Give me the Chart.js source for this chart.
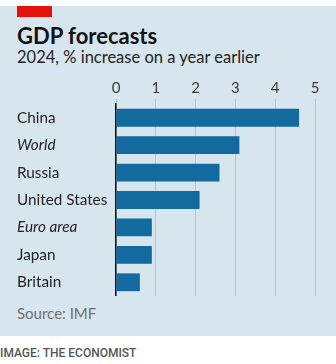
<!DOCTYPE html>
<html>
<head>
<meta charset="utf-8">
<script src="https://cdn.jsdelivr.net/npm/chart.js@4"></script>
<style>
  body { margin: 0; width: 336px; height: 364px; background: #fff; font-family: Lato, "Noto Sans", sans-serif; position: relative; overflow: hidden; }
  #panel { position: absolute; left: 0; top: 6px; width: 336px; height: 330px; background: #d7e5ee; }
  #redbar { position: absolute; left: 17px; top: 6px; width: 35px; height: 11px; background: #e3120b; }
  #title { position: absolute; left: 17px; top: 22px; font-size: 22px; font-weight: bold; color: #121212; }
  #subtitle { position: absolute; left: 17px; top: 47px; font-size: 16.5px; color: #222; }
  #source { position: absolute; left: 17px; top: 304px; font-size: 15px; color: #707070; }
  #credit { position: absolute; left: 0; top: 346px; font-size: 12px; font-weight: 500; color: #555; font-family: Roboto, sans-serif; }
  #wrap { position: absolute; left: 0; top: 77px; width: 336px; height: 219px; }
</style>
</head>
<body>
<div id="panel"></div>
<div id="redbar"></div>
<div id="title">GDP forecasts</div>
<div id="subtitle">2024, % increase on a year earlier</div>
<div id="wrap"><canvas id="gdp"></canvas></div>
<div id="source">Source: IMF</div>
<div id="credit">IMAGE: THE ECONOMIST</div>
<script>
const countries = ['China', 'World', 'Russia', 'United States', 'Euro area', 'Japan', 'Britain'];
const growth = [4.6, 3.1, 2.6, 2.1, 0.9, 0.9, 0.6];
const italicRows = ['World', 'Euro area'];
const xTicks = [0, 1, 2, 3, 4, 5];

const ctx = document.getElementById("gdp").getContext("2d");
const gdpChart = new Chart(ctx, {
  type: 'bar',
  data: {
    labels: countries,
    datasets: [{
      label: 'GDP growth, %',
      data: growth,
      backgroundColor: '#136a9f',
      borderWidth: 0,
      barPercentage: 0.65,
      categoryPercentage: 1
    }]
  },
  options: {
    indexAxis: 'y',
    responsive: true,
    maintainAspectRatio: false,
    animation: false,
    layout: { padding: { left: 17, right: 21, top: 0, bottom: 0 } },
    plugins: { legend: { display: false }, tooltip: { enabled: false } },
    scales: {
      x: {
        position: 'top',
        min: 0,
        max: 5,
        afterBuildTicks: (scale) => { scale.ticks = xTicks.map(v => ({ value: v })); },
        ticks: { color: '#3a3a3a', font: { family: 'Lato', size: 15 }, padding: 2 },
        grid: { color: '#b3c2cb', lineWidth: 1, tickLength: 5, drawOnChartArea: true },
        border: { display: false }
      },
      y: {
        afterFit: (scale) => {
          scale.width = 99;
          scale.paddingTop = 0;
          scale.paddingBottom = 0;
        },
        ticks: {
          crossAlign: 'far',
          color: '#222',
          font: (c) => ({ family: 'Lato', size: 15.3, style: italicRows.includes(countries[c.index]) ? 'italic' : 'normal' })
        },
        grid: { display: false },
        border: { display: true, color: '#111', width: 1.5 }
      }
    }
  }
});
</script>
</body>
</html>
